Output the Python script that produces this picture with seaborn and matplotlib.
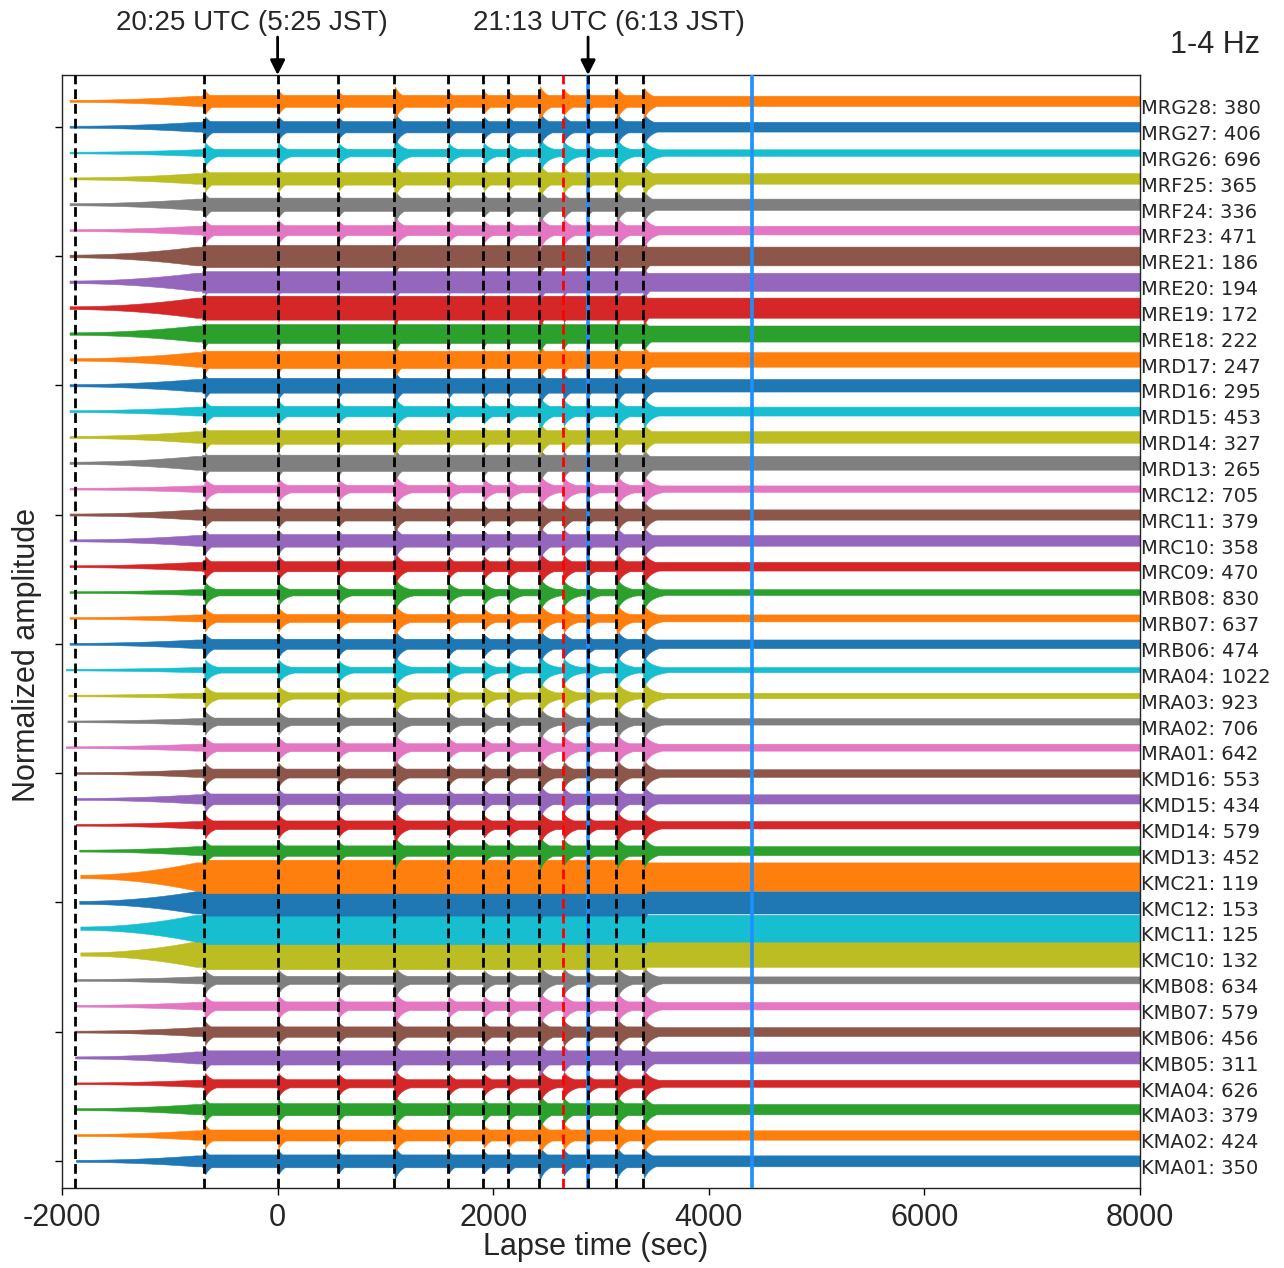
import numpy as np
import matplotlib
matplotlib.use("Agg")
import matplotlib.pyplot as plt
import matplotlib.transforms as mtransforms
import seaborn as sns

# ---------------- data ----------------
stations = ["KMA01", "KMA02", "KMA03", "KMA04", "KMB05", "KMB06", "KMB07", "KMB08",
            "KMC10", "KMC11", "KMC12", "KMC21", "KMD13", "KMD14", "KMD15", "KMD16",
            "MRA01", "MRA02", "MRA03", "MRA04", "MRB06", "MRB07", "MRB08",
            "MRC09", "MRC10", "MRC11", "MRC12",
            "MRD13", "MRD14", "MRD15", "MRD16", "MRD17",
            "MRE18", "MRE19", "MRE20", "MRE21",
            "MRF23", "MRF24", "MRF25", "MRG26", "MRG27", "MRG28"]
norms = [350, 424, 379, 626, 311, 456, 579, 634,
         132, 125, 153, 119, 452, 579, 434, 553,
         642, 706, 923, 1022, 474, 637, 830,
         470, 358, 379, 705,
         265, 327, 453, 295, 247,
         222, 172, 194, 186,
         471, 336, 365, 696, 406, 380]
start_times = [-1870, -1860, -1870, -1870, -1880, -1880, -1880, -1880,
               -1830, -1830, -1840, -1830, -1840, -1870, -1880, -1880,
               -1965, -1950, -1940, -1965, -1930, -1930, -1930,
               -1930, -1930, -1930, -1930,
               -1930, -1930, -1930, -1930, -1930,
               -1930, -1930, -1930, -1930,
               -1930, -1930, -1930, -1930, -1930, -1930]
# events marked by dashed lines (sec) and their relative burst strength
event_times = [-680, 0, 560, 1080, 1580, 1905, 2137, 2424, 2647, 2880, 3141, 3391]
event_strength = [0.9, 0.9, 0.8, 1.2, 0.8, 0.8, 0.7, 1.2, 0.8, 0.5, 1.1, 1.0]
black_dashed = [-1880, -680, 0, 560, 1080, 1580, 1905, 2137, 2424, 2880, 3141, 3391]
red_dashed = [2647]
blue_solid = [2880, 4400]
arrow_times = [0, 2880]
arrow_texts = ["20:25 UTC (5:25 JST)", "21:13 UTC (6:13 JST)"]
xticks = [-2000, 0, 2000, 4000, 6000, 8000]

# ---------------- style ----------------
sns.set_style("ticks")
plt.rcParams["font.family"] = ["Liberation Sans", "DejaVu Sans"]
plt.rcParams["axes.unicode_minus"] = False
palette = sns.color_palette("tab10", 10)

W, H = 1284, 1268
fig = plt.figure(figsize=(W / 100, H / 100), dpi=100)
ax = fig.add_axes([62 / W, 1 - 1188 / H, (1140 - 62) / W, (1188 - 75) / H])

# ---------------- envelopes ----------------
bg_scale = 60.0
burst_peak = 0.5
active_window = (-700, 3420)
for k, (name, nv, ts) in enumerate(zip(stations, norms, start_times)):
    t = np.arange(ts, 8001, 2.0)
    bg = bg_scale / nv + 0.015
    ramp = np.clip((t - ts) / (-760 - ts), 0, 1) ** 2
    active = np.where((t >= active_window[0]) & (t <= active_window[1]), 1.2, 1.0)
    base = 0.025 + bg * (0.08 + 0.92 * ramp) * active
    burst = np.zeros_like(t)
    for te, s in zip(event_times, event_strength):
        dtt = np.clip(t - te, 0, None)
        shape = np.where(t >= te, 0.6 * np.exp(-dtt / 45.0) + 0.4 * np.exp(-dtt / 180.0), 0.0)
        rise = np.clip((t - te + 8) / 16.0, 0, 1)
        burst += burst_peak * s * shape * rise
    upper = np.maximum(base, burst)
    lower = np.maximum(base, 1.3 * burst)
    col = palette[k % 10]
    ax.fill_between(t, k - lower, k + upper, color=col, lw=0.4, edgecolor=col, zorder=2)

# ---------------- marker lines ----------------
for xv in blue_solid:
    ax.axvline(xv, color="#1e8fff", lw=2.6, zorder=3)
for xv in black_dashed:
    ax.axvline(xv, color="black", lw=2.0, dashes=(3.5, 1.8), zorder=4)
for xv in red_dashed:
    ax.axvline(xv, color="red", lw=2.0, dashes=(3.5, 1.8), zorder=4)

# ---------------- axes ----------------
ax.set_xlim(-2000, 8000)
ax.set_ylim(-1.05, 42.0)
ax.set_xticks(xticks)
ax.set_xticklabels([str(v) for v in xticks], fontsize=22)
ax.set_yticks(np.arange(0, 41, 5))
ax.set_yticklabels([])
ax.tick_params(axis="both", direction="out", length=5, width=1, color="black", pad=6)
for sp in ax.spines.values():
    sp.set_color("#222222")
    sp.set_linewidth(1.0)

# station labels on the right
trans = mtransforms.blended_transform_factory(ax.transAxes, ax.transData)
for k, (name, nv) in enumerate(zip(stations, norms)):
    ax.text(1.001, k - 0.3, f"{name}: {nv}", transform=trans, ha="left", va="center",
            fontsize=14, family="DejaVu Sans", clip_on=False)

# arrows and time annotations
ytop_axes = 1 + (75 - 37) / (1188 - 75)
trans2 = mtransforms.blended_transform_factory(ax.transData, ax.transAxes)
for xv in arrow_times:
    ax.annotate("", xy=(xv, 1.0), xycoords=trans2, xytext=(xv, ytop_axes), textcoords=trans2,
                arrowprops=dict(arrowstyle="-|>", color="black", lw=2, mutation_scale=22,
                                shrinkA=0, shrinkB=0), annotation_clip=False)
fig.text(251.5 / W, 1 - 23 / H, arrow_texts[0], ha="center", va="center", fontsize=20)
fig.text(608.5 / W, 1 - 23 / H, arrow_texts[1], ha="center", va="center", fontsize=20)
fig.text(1215 / W, 1 - 45 / H, "1-4 Hz", ha="center", va="center", fontsize=22)

fig.text(596 / W, 1 - 1247 / H, "Lapse time (sec)", ha="center", va="center", fontsize=22)
fig.text(27 / W, 1 - 655 / H, "Normalized amplitude", ha="center", va="center",
         rotation=90, fontsize=22)

fig.savefig("out.png", dpi=100)
